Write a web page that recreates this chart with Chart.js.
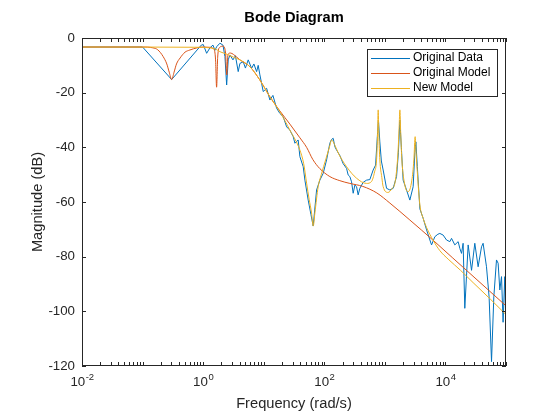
<!DOCTYPE html>
<html>
<head>
<meta charset="utf-8">
<script src="https://cdn.jsdelivr.net/npm/chart.js@4"></script>
<style>
  html,body{margin:0;padding:0;background:#fff}
  #wrap{width:560px;height:420px}
</style>
</head>
<body>
<div id="wrap"><canvas id="bode" width="560" height="420"></canvas></div>
<script>
// log10(frequency in rad/s) and magnitude (dB)
const dataLogW = [-2, -1, -0.52, -0.03, 0.002, 0.058, 0.112, 0.162, 0.195, 0.223, 0.277, 0.327, 0.36, 0.388, 0.414, 0.442, 0.492, 0.533, 0.579, 0.607, 0.662, 0.698, 0.744, 0.8, 0.838, 0.883, 0.909, 0.937, 0.965, 0.992, 1.048, 1.102, 1.152, 1.213, 1.267, 1.322, 1.378, 1.432, 1.487, 1.515, 1.569, 1.597, 1.652, 1.68, 1.734, 1.779, 1.817, 1.873, 1.927, 1.982, 2.038, 2.092, 2.12, 2.147, 2.175, 2.203, 2.257, 2.312, 2.368, 2.394, 2.422, 2.45, 2.477, 2.505, 2.533, 2.559, 2.587, 2.642, 2.698, 2.752, 2.807, 2.847, 2.876, 2.894, 2.917, 2.942, 2.972, 3.028, 3.083, 3.137, 3.193, 3.223, 3.248, 3.272, 3.302, 3.358, 3.413, 3.467, 3.495, 3.512, 3.536, 3.578, 3.633, 3.689, 3.743, 3.771, 3.825, 3.875, 3.908, 3.962, 4.018, 4.073, 4.101, 4.155, 4.21, 4.238, 4.266, 4.292, 4.32, 4.375, 4.431, 4.485, 4.54, 4.596, 4.622, 4.678, 4.721, 4.761, 4.799, 4.843, 4.87, 4.898, 4.926, 4.952, 4.98, 5.0];
const dataDb = [-3.3, -3.3, -15.2, -2.6, -2.4, -5.6, -3.6, -2.6, -4.5, -3.2, -1.9, -2.6, -6.8, -17.2, -8.0, -6.2, -8.0, -6.5, -12.3, -9.3, -8.7, -11.0, -8.0, -11.1, -9.5, -12.3, -10.0, -13.5, -16.6, -19.6, -18.4, -22.7, -21.0, -25.7, -27.6, -28.8, -32.5, -33.7, -36.1, -38.5, -37.3, -43.4, -47.1, -52.0, -59.3, -64.5, -68.8, -55.6, -52.0, -49.5, -44.6, -38.5, -37.1, -36.7, -39.8, -41.0, -43.0, -46.0, -47.7, -50.1, -50.7, -52.6, -56.8, -53.8, -54.4, -57.4, -55.0, -52.8, -52.0, -51.8, -48.3, -46.5, -36.0, -30.0, -38.0, -45.0, -48.3, -55.0, -55.6, -55.0, -50.7, -42.0, -30.0, -40.0, -52.0, -55.6, -59.3, -54.4, -42.0, -38.0, -47.0, -62.5, -66.0, -70.2, -73.9, -75.7, -72.7, -71.8, -71.5, -72.1, -73.9, -74.5, -73.3, -75.7, -74.5, -77.0, -78.8, -75.1, -98.9, -75.7, -85.0, -75.1, -83.7, -76.4, -75.1, -83.7, -94.7, -118.4, -94.7, -81.2, -82.4, -92.2, -87.3, -104.0, -87.3, -107.5];

const origLogW = [-2, -1, -0.83, -0.75, -0.66, -0.6, -0.56, -0.52, -0.48, -0.44, -0.38, -0.3, -0.22, -0.1, 0, 0.1, 0.18, 0.205, 0.222, 0.24, 0.27, 0.33, 0.37, 0.39, 0.41, 0.45, 0.5, 0.607, 0.772, 0.937, 1.102, 1.267, 1.432, 1.597, 1.708, 1.812, 1.927, 2.092, 2.257, 2.422, 2.637, 2.868, 3.083, 3.413, 3.792, 4.122, 5.0];
const origDb = [-3.3, -3.3, -3.6, -4.3, -6.8, -9.5, -12.5, -15.2, -12.5, -9.5, -7.3, -5.2, -4.4, -3.6, -3.3, -3.4, -4.2, -8.0, -18.0, -7.0, -3.5, -3.0, -5.5, -13.5, -6.0, -5.5, -6.0, -8.0, -10.5, -15.4, -21.5, -26.7, -31.5, -36.5, -40.0, -44.5, -47.8, -50.7, -52.2, -53.2, -54.3, -56.7, -60.4, -66.6, -73.9, -80.5, -98.0];

const newLogW = [-2, 0, 0.1, 0.2, 0.277, 0.4, 0.5, 0.607, 0.772, 0.937, 1.102, 1.267, 1.432, 1.597, 1.66, 1.708, 1.75, 1.79, 1.817, 1.845, 1.899, 1.95, 2.03, 2.09, 2.12, 2.17, 2.231, 2.368, 2.533, 2.698, 2.78, 2.83, 2.863, 2.88, 2.89, 2.9, 2.917, 2.95, 2.972, 3.054, 3.12, 3.165, 3.2, 3.219, 3.235, 3.248, 3.262, 3.281, 3.33, 3.385, 3.446, 3.479, 3.5, 3.515, 3.528, 3.578, 3.633, 3.688, 3.797, 3.908, 4.045, 4.25, 4.457, 4.75, 5.0];
const newDb = [-3.3, -3.4, -3.6, -4.0, -5.0, -6.0, -7.0, -8.0, -10.5, -15.4, -21.5, -27.0, -33.7, -41.0, -46.0, -53.1, -59.0, -64.0, -68.8, -64.0, -54.4, -50.0, -44.0, -39.5, -37.3, -39.0, -42.1, -47.1, -51.3, -53.2, -52.5, -49.0, -44.6, -35.0, -26.3, -35.0, -44.6, -51.0, -54.4, -56.5, -55.0, -53.2, -47.0, -41.0, -33.0, -26.3, -35.0, -44.6, -53.8, -56.2, -52.0, -44.6, -36.1, -42.0, -46.5, -61.0, -66.0, -69.3, -74.0, -77.8, -80.9, -85.0, -89.5, -95.7, -101.2];

const seriesNames = ['Original Data', 'Original Model', 'New Model'];
const seriesColors = ['#0072BD', '#D95319', '#EDB120'];
const xMajorExps = [-2, 0, 2, 4];
const yTicks = [0, -20, -40, -60, -80, -100, -120];

const FONT = '"Liberation Sans", Arial, Helvetica, sans-serif';
const AX = '#262626';

function pts(lw, db){ return lw.map((l,i)=>({x: Math.pow(10,l), y: db[i]})); }

// frame, inward ticks, x labels with superscripts, titles, legend
const matlabAxes = {
  id:'matlabAxes',
  afterDatasetsDraw(chart){
    const c = chart.ctx, a = chart.chartArea;
    const xs = chart.scales.x, ys = chart.scales.y;
    c.save();
    c.strokeStyle = AX; c.lineWidth = 1;
    c.strokeRect(a.left+0.5, a.top+0.5, a.right-a.left-1, a.bottom-a.top-1);
    c.beginPath();
    for(let n=-2;n<=5;n++){
      for(let k=1;k<=9;k++){
        const v = k*Math.pow(10,n);
        if(v<0.01||v>1e5) continue;
        const px = Math.round(xs.getPixelForValue(v))+0.5;
        const len = 4;
        c.moveTo(px,a.bottom); c.lineTo(px,a.bottom-len);
        c.moveTo(px,a.top); c.lineTo(px,a.top+len);
      }
    }
    yTicks.forEach(t=>{
      const py = Math.round(ys.getPixelForValue(t))+0.5;
      c.moveTo(a.left,py); c.lineTo(a.left+4,py);
      c.moveTo(a.right,py); c.lineTo(a.right-4,py);
    });
    c.stroke();

    // x tick labels 10^n
    c.fillStyle = AX; c.textBaseline = 'alphabetic';
    xMajorExps.forEach(e=>{
      const px = xs.getPixelForValue(Math.pow(10,e));
      c.font = '13.3px '+FONT;
      const wb = c.measureText('10').width;
      c.font = '9.5px '+FONT;
      const ex = String(e).replace('-', '-');
      const we = c.measureText(ex).width;
      const x0 = px - (wb+we)/2;
      c.font = '13.3px '+FONT; c.textAlign='left';
      c.fillText('10', x0, 386);
      c.font = '9.5px '+FONT;
      c.fillText(ex, x0+wb+0.5, 380);
    });

    // axis titles
    c.textAlign='center'; c.textBaseline='middle';
    c.font = '14.67px '+FONT;
    c.fillText('Frequency (rad/s)', (a.left+a.right)/2, 404);
    c.save();
    c.translate(38,(a.top+a.bottom)/2); c.rotate(-Math.PI/2);
    c.fillText('Magnitude (dB)',0,0);
    c.restore();
    c.fillStyle = '#000';
    c.font = 'bold 14.67px '+FONT;
    c.fillText('Bode Diagram', (a.left+a.right)/2, 18);

    // legend
    const lx=367, ly=49, lw=130, lh=47;
    c.fillStyle='#fff'; c.fillRect(lx,ly,lw,lh);
    c.strokeStyle='#262626'; c.lineWidth=1;
    c.strokeRect(lx+0.5,ly+0.5,lw,lh);
    c.font='12px '+FONT; c.textAlign='left'; c.textBaseline='middle';
    seriesNames.forEach((s,i)=>{
      const y = ly+8.5+i*15;
      c.strokeStyle=seriesColors[i]; c.lineWidth=1;
      c.beginPath(); c.moveTo(lx+4,Math.round(y)+0.5); c.lineTo(lx+43,Math.round(y)+0.5); c.stroke();
      c.fillStyle='#000';
      c.fillText(s, lx+46, y+0.5);
    });
    c.restore();
  }
};

new Chart(document.getElementById('bode'), {
  type:'line',
  data:{
    datasets:[
      {label:seriesNames[0], data:pts(dataLogW,dataDb), borderColor:seriesColors[0], borderWidth:1, pointRadius:0, tension:0, order:3},
      {label:seriesNames[1], data:pts(origLogW,origDb), borderColor:seriesColors[1], borderWidth:1, pointRadius:0, cubicInterpolationMode:'monotone', order:2},
      {label:seriesNames[2], data:pts(newLogW,newDb), borderColor:seriesColors[2], borderWidth:1, pointRadius:0, cubicInterpolationMode:'monotone', order:1}
    ]
  },
  options:{
    responsive:false, animation:false, devicePixelRatio:1,
    layout:{padding:{top:38,right:54,left:0,bottom:0}},
    plugins:{legend:{display:false}, tooltip:{enabled:false}},
    scales:{
      x:{type:'logarithmic', min:0.01, max:1e5,
        grid:{display:false, drawTicks:false}, border:{display:false},
        ticks:{display:false},
        afterFit(s){ s.height = 54; }},
      y:{type:'linear', min:-120, max:0,
        grid:{display:false, drawTicks:false}, border:{display:false},
        ticks:{stepSize:20, padding:7, color:AX, font:{family:FONT, size:13.3}},
        afterFit(s){ s.width = 82; }}
    }
  },
  plugins:[matlabAxes]
});
</script>
</body>
</html>
